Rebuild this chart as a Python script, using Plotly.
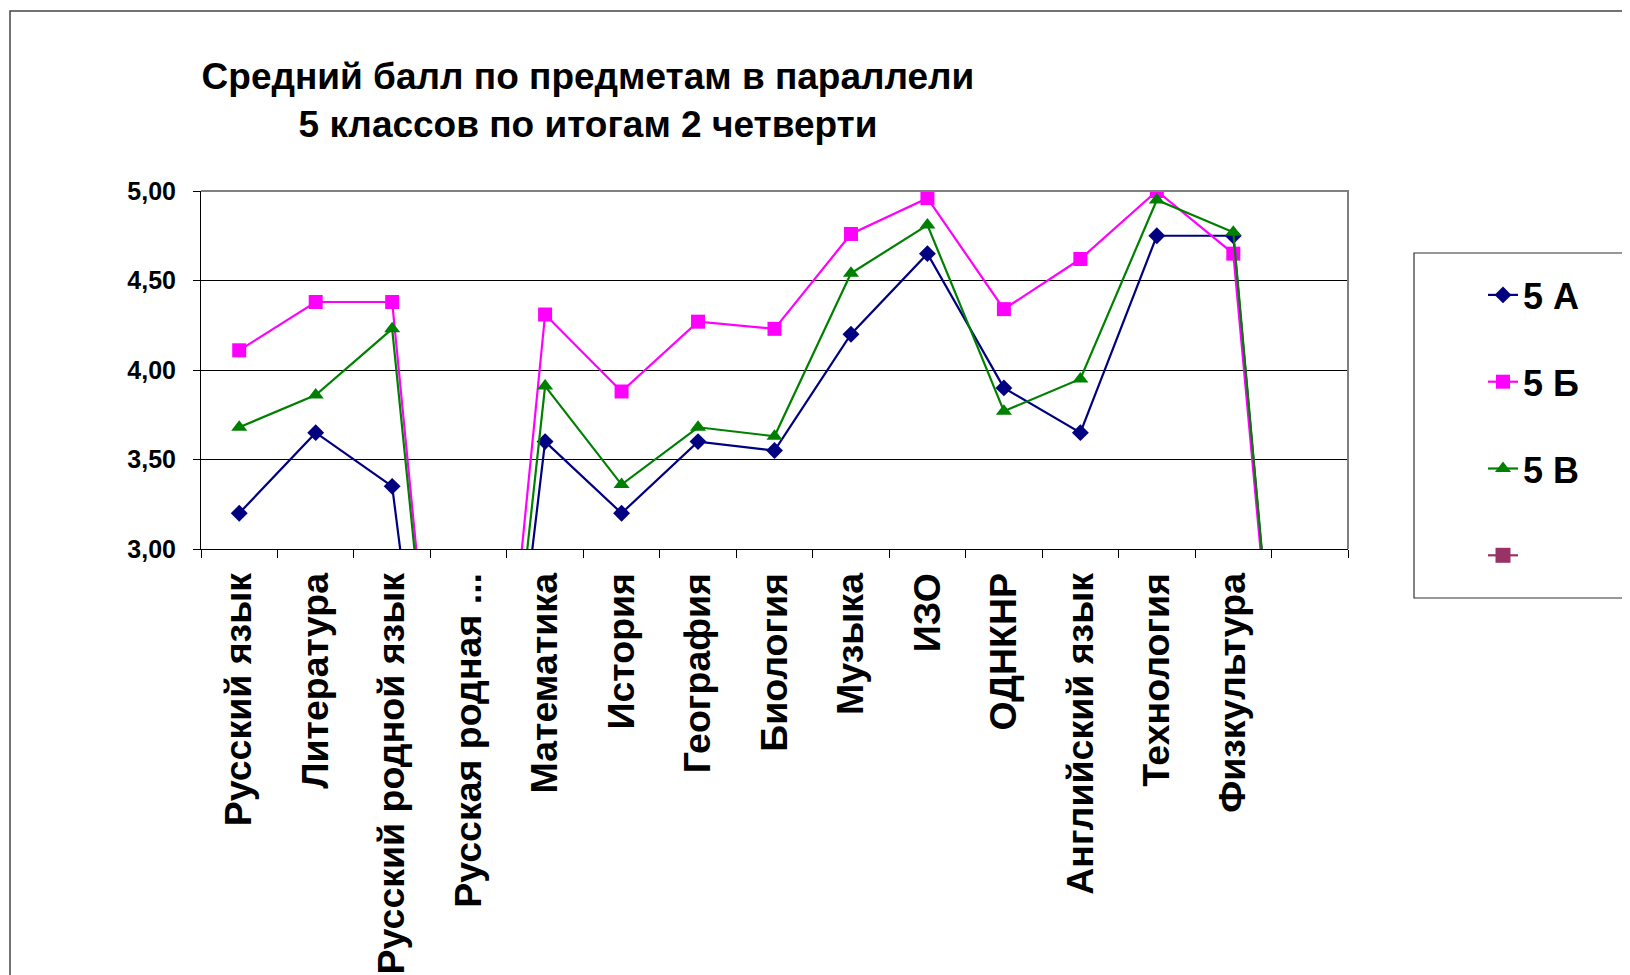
import plotly.graph_objects as go

categories = ["Русский язык", "Литература", "Русский родной язык", "Русская родная ...",
              "Математика", "История", "География", "Биология", "Музыка", "ИЗО",
              "ОДНКНР", "Английский язык", "Технология", "Физкультура", " "]

a5 = [3.20, 3.65, 3.35, 0, 3.60, 3.20, 3.60, 3.55, 4.20, 4.65, 3.90, 3.65, 4.75, 4.75, 0]
b5 = [4.11, 4.38, 4.38, 0, 4.31, 3.88, 4.27, 4.23, 4.76, 4.96, 4.34, 4.62, 5.00, 4.65, 0]
v5 = [3.68, 3.86, 4.23, 0, 3.91, 3.36, 3.68, 3.63, 4.54, 4.81, 3.77, 3.95, 4.95, 4.77, 0]

series = [
    ("5 А", a5, "#000080", "diamond", 13),
    ("5 Б", b5, "#FF00FF", "square", 14),
    ("5 В", v5, "#008000", "triangle-up", 14),
]

FONT = "Arial, 'Liberation Sans', sans-serif"

fig = go.Figure()
for i, (name, vals, color, sym, size) in enumerate(series):
    fig.add_trace(go.Scatter(
        x=categories, y=vals, name=name, mode="lines+markers",
        line=dict(color=color, width=2.2),
        marker=dict(symbol=sym, size=size, color=color),
        legendgroup=f"g{i}", cliponaxis=True,
    ))
# empty fourth series (shown only in legend)
fig.add_trace(go.Scatter(
    x=[None], y=[None], name=" ", mode="lines+markers",
    line=dict(color="#993366", width=2.2),
    marker=dict(symbol="square", size=15, color="#993366"),
    legendgroup="g3",
))

L, R, T, B = 193, 290, 183, 434
W, H = 1630, 975
ph = H - T - B
pw = W - L - R

def px_x(p):
    return (p - L) / pw

def px_y(p):
    return (H - B - p) / ph

def open_frame(x0, x1, ytop, ybot):
    # frame with left, top and bottom sides; the right side runs off the page
    return (f"M {px_x(x1)} {px_y(ytop)} L {px_x(x0)} {px_y(ytop)} "
            f"L {px_x(x0)} {px_y(ybot)} L {px_x(x1)} {px_y(ybot)}")

fig.update_layout(
    width=W, height=H,
    margin=dict(l=L, r=R, t=T, b=B),
    paper_bgcolor="white", plot_bgcolor="white",
    separators=", ",
    font=dict(family=FONT, color="black"),
    title=dict(
        text="Средний балл по предметам в параллели<br>5 классов по итогам 2 четверти",
        x=580 / W, xanchor="center", xref="container",
        y=1 - 81 / H, yanchor="middle", yref="container",
        font=dict(family=FONT, size=37, color="black", weight="bold"),
        automargin=False,
    ),
    showlegend=True,
    legend=dict(
        xref="container", yref="container",
        x=1406 / W, xanchor="left",
        y=1 - 257 / H, yanchor="top",
        borderwidth=0, bgcolor="rgba(0,0,0,0)",
        font=dict(family=FONT, size=36, color="black", weight="bold"),
        tracegroupgap=37, indentation=69,
        itemsizing="trace",
    ),
    xaxis=dict(
        type="category", categoryorder="array", categoryarray=categories,
        range=[-0.5, len(categories) - 0.5], automargin=False,
        tickson="boundaries", ticks="outside", ticklen=8, tickcolor="black", tickwidth=1,
        showline=True, linecolor="black", linewidth=1, showgrid=False,
        tickangle=-90, ticklabelstandoff=8,
        tickfont=dict(family=FONT, size=37.5, color="black", weight="bold"),
    ),
    yaxis=dict(
        range=[3.0, 5.0], tickvals=[3.0, 3.5, 4.0, 4.5, 5.0], tickformat=".2f",
        automargin=False,
        ticks="outside", ticklen=7, tickcolor="black", tickwidth=1,
        showline=True, linecolor="black", linewidth=1,
        showgrid=True, gridcolor="black", gridwidth=1, zeroline=False,
        ticklabelstandoff=12,
        tickfont=dict(family=FONT, size=25, color="black", weight="bold"),
    ),
    shapes=[
        # plot area border (top and right) in gray
        dict(type="path", xref="paper", yref="paper",
             path="M 0 1 L 1 1 L 1 0", line=dict(color="#808080", width=2), layer="above"),
        # outer chart frame (top and left visible)
        dict(type="path", xref="paper", yref="paper",
             path=open_frame(2, 1700, 3, 1100),
             line=dict(color="#444444", width=1.5), layer="below"),
        # legend frame
        dict(type="path", xref="paper", yref="paper",
             path=open_frame(1406, 1700, 245, 590),
             line=dict(color="#333333", width=1.2), layer="below"),
    ],
)

fig.write_html("out.html")
